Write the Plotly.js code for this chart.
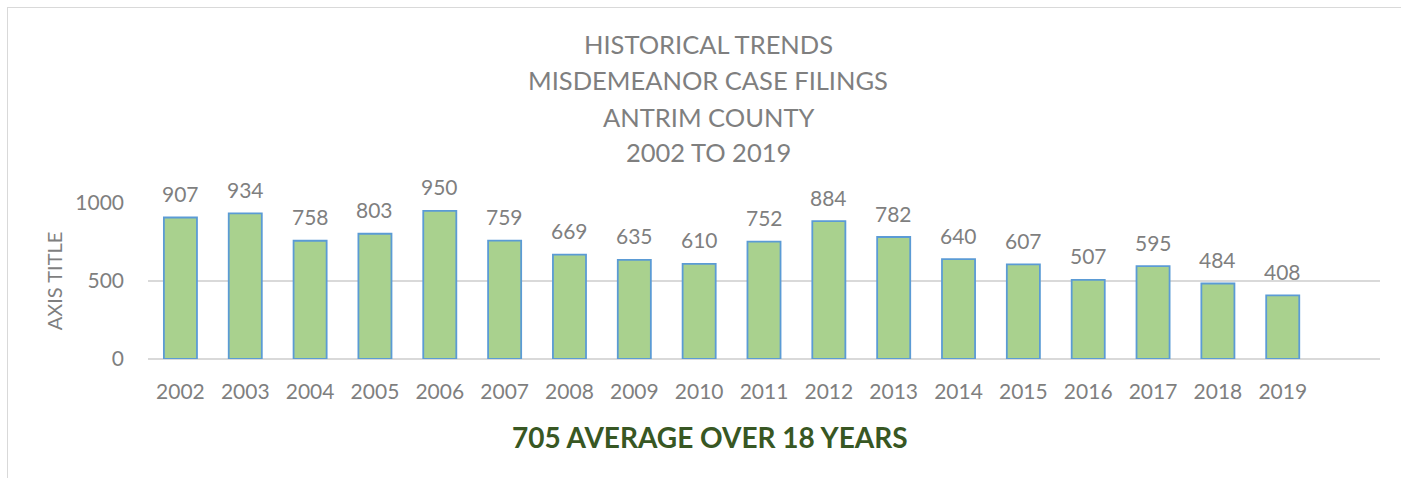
<!DOCTYPE html>
<html>
<head>
<meta charset="utf-8">
<script src="https://cdn.plot.ly/plotly-3.0.1.min.js"></script>
<style>
  html, body { margin: 0; padding: 0; background: #ffffff; overflow: hidden; }
  #wrap { position: relative; width: 1401px; height: 478px; overflow: hidden; }
  #frame { position: absolute; left: 7px; top: 7px; width: 1600px; height: 700px;
           border-left: 1.5px solid #d9d9d9; border-top: 1.5px solid #d9d9d9; box-sizing: border-box; }
  #chart { position: absolute; left: 0; top: 0; width: 1401px; height: 478px; }
</style>
</head>
<body>
<div id="wrap"><div id="frame"></div><div id="chart"></div></div>
<script>
const years = ['2002','2003','2004','2005','2006','2007','2008','2009','2010','2011','2012','2013','2014','2015','2016','2017','2018','2019'];
const filings = [907, 934, 758, 803, 950, 759, 669, 635, 610, 752, 884, 782, 640, 607, 507, 595, 484, 408];
const titleLines = ['HISTORICAL TRENDS', 'MISDEMEANOR CASE FILINGS', 'ANTRIM COUNTY', '2002 TO 2019'];
const xAxisTitle = '705 AVERAGE OVER 18 YEARS';
const yAxisTitle = 'AXIS TITLE';

const W = 1401, H = 478;
const mL = 148, mR = 21, mT = 203, mB = 119;
const pw = W - mL - mR, ph = H - mT - mB;
const px2x = p => (p - mL) / pw;
const py2y = p => (H - mB - p) / ph;

const FONT = 'Lato, "Open Sans", sans-serif';
const GRAY = '#7f7f7f';

const annotations = [];
const titleY = [44, 80.5, 116.5, 152];
titleLines.forEach((t, i) => {
  annotations.push({
    text: t, xref: 'paper', yref: 'paper', x: px2x(708), y: py2y(titleY[i]),
    xanchor: 'center', yanchor: 'middle', showarrow: false,
    font: {family: FONT, size: 25.5, color: GRAY}
  });
});
years.forEach((yr, i) => {
  annotations.push({
    text: String(filings[i]), x: i, y: filings[i], xref: 'x', yref: 'y',
    yshift: 24, xanchor: 'center', yanchor: 'middle', showarrow: false,
    font: {family: FONT, size: 21, color: GRAY}
  });
});
annotations.push({
  text: '<b>' + xAxisTitle + '</b>', xref: 'paper', yref: 'paper', x: px2x(710), y: py2y(437),
  xanchor: 'center', yanchor: 'middle', showarrow: false,
  font: {family: FONT, size: 28, color: '#385723'}
});

const data = [{
  type: 'bar', x: years, y: filings, width: 0.51,
  marker: {color: '#A9D18E', line: {color: '#5B9BD5', width: 1.8}},
  hoverinfo: 'x+y'
}];

const layout = {
  width: W, height: H,
  margin: {l: mL, r: mR, t: mT, b: mB, pad: 0},
  paper_bgcolor: 'rgba(0,0,0,0)', plot_bgcolor: 'rgba(0,0,0,0)',
  showlegend: false,
  font: {family: FONT, color: GRAY},
  xaxis: {
    type: 'category', range: [-0.5, 18.5], showgrid: false, zeroline: false,
    showline: false, ticks: '', ticklabelstandoff: 18,
    tickfont: {family: FONT, size: 21, color: GRAY}, fixedrange: true
  },
  yaxis: {
    range: [0, 1000], tickvals: [0, 500, 1000], ticktext: ['0', '500', '1000'],
    showgrid: true, gridcolor: '#d9d9d9', gridwidth: 1.4,
    zeroline: true, zerolinecolor: '#d9d9d9', zerolinewidth: 1.4,
    showline: false, ticks: '', ticklabelstandoff: 23,
    tickfont: {family: FONT, size: 21, color: GRAY},
    title: {text: yAxisTitle, font: {family: FONT, size: 20, color: GRAY}, standoff: 7},
    fixedrange: true
  },
  annotations: annotations
};

Plotly.newPlot('chart', data, layout, {displayModeBar: false, staticPlot: true});
</script>
</body>
</html>
